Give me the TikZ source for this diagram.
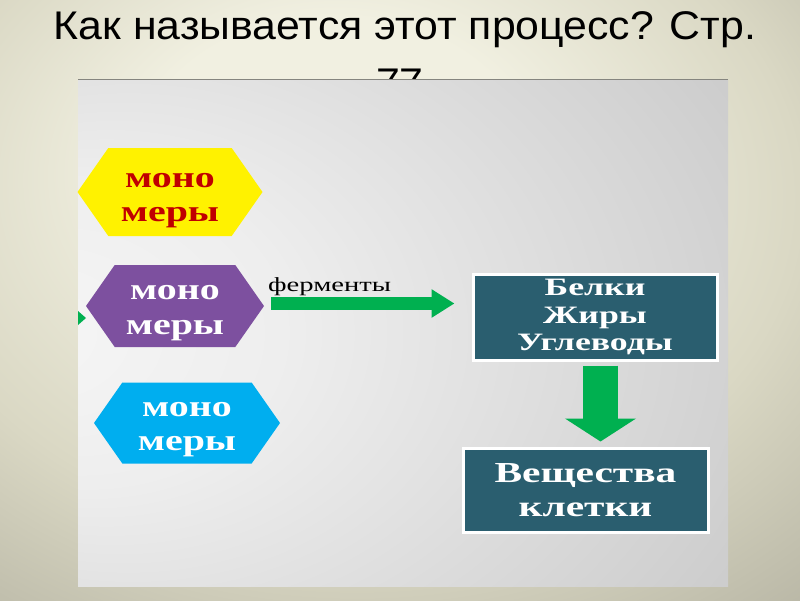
\documentclass[tikz,border=0pt]{standalone}
\usepackage{fontspec}
\setmainfont{Liberation Serif}
\newfontfamily\titlefont[FakeStretch=1.07]{Liberation Sans}
\newfontfamily\hexserif[FakeStretch=1.33]{Liberation Serif}
\newfontfamily\boxserif[FakeStretch=1.43]{Liberation Serif}
\usetikzlibrary{shapes.symbols,arrows.meta,calc}
\definecolor{bgA}{HTML}{F1F0E1}
\definecolor{bgB}{HTML}{DAD8C4}
\definecolor{bgC}{HTML}{AAA898}
\definecolor{bgD}{HTML}{86857A}
\definecolor{pnA}{HTML}{F6F6F6}
\definecolor{pnB}{HTML}{EEEEEE}
\definecolor{pnC}{HTML}{CDCDCD}
\definecolor{pnD}{HTML}{B6B6B6}
\definecolor{panelline}{HTML}{85857F}
\definecolor{hexyellow}{HTML}{FFF200}
\definecolor{hexpurple}{HTML}{7D509F}
\definecolor{hexcyan}{HTML}{00AEEF}
\definecolor{monored}{HTML}{C00000}
\definecolor{arrowgreen}{HTML}{00B050}
\definecolor{boxteal}{HTML}{2A5E6F}
\pgfdeclareradialshading{bgshade}{\pgfpoint{-5bp}{14bp}}{color(0bp)=(bgA); color(12bp)=(bgA); color(28bp)=(bgB); color(48bp)=(bgC); color(70bp)=(bgD)}
\pgfdeclareradialshading{panelshade}{\pgfpoint{-30bp}{0bp}}{color(0bp)=(pnA); color(15bp)=(pnB); color(45bp)=(pnC); color(80bp)=(pnD)}
\tikzset{
  titlestyle/.style={font=\titlefont\fontsize{40}{48}\selectfont, text=black, inner sep=0pt},
  hexa/.style={shape=signal, signal to=east and west, signal pointer angle=110, draw=none, fill=#1, inner sep=0pt, align=center, font=\hexserif\bfseries\fontsize{30}{34.5}\selectfont},
  tealbox/.style={draw=white, line width=3pt, fill=boxteal, text=white, align=center, inner sep=0pt},
  fatarrow/.style={draw=arrowgreen, line width=13pt, -{Triangle[width=27pt,length=23pt]}},
  downarrow/.style={draw=arrowgreen, line width=35pt, -{Triangle[width=70pt,length=23pt]}},
}
\begin{document}
\begin{tikzpicture}[x=1pt,y=-1pt]
\useasboundingbox (0,0) rectangle (800,600);
\shade[shading=bgshade] (0,0) rectangle (800,600);
\node[titlestyle, anchor=base] (title) at (405,39) {Как называется этот процесс? Стр.};
\node[titlestyle, anchor=base] (page) at (400,96) {77};
\shade[shading=panelshade] (78,79) rectangle (728,586);
\draw[line width=1.5pt, panelline] (78,79.5) -- (728,79.5);
\fill[arrowgreen] (78,311) -- (86,318) -- (78,325) -- cycle;
\node[hexa=hexyellow, text=monored, minimum width=185pt, minimum height=88pt] (m1) at (170,192) {\rule{0pt}{31.5pt}моно\\меры};
\node[hexa=hexpurple, text=white, minimum width=178pt, minimum height=82pt] (m2) at (175,306) {\rule{0pt}{28.5pt}моно\\меры};
\node[hexa=hexcyan, text=white, minimum width=186pt, minimum height=81pt] (m3) at (187,423) {\rule{0pt}{27.5pt}моно\\меры};
\node[tealbox, minimum width=244pt, minimum height=86pt, font=\boxserif\bfseries\fontsize{25}{27.5}\selectfont] (bjy) at (595,317) {Белки\\Жиры\\Углеводы};
\node[tealbox, minimum width=245pt, minimum height=84pt, font=\boxserif\bfseries\fontsize{29}{34}\selectfont] (vk) at (585.5,490) {Вещества\\клетки};
\path (m2.east) ++(7,-2.5) coordinate (f0);
\draw[fatarrow, shorten >=17pt] (f0) -- (f0 -| bjy.west);
\node[font=\boxserif\fontsize{20}{24}\selectfont, anchor=base west, inner sep=0pt] (ferm) at (268,291) {ферменты};
\draw[downarrow, shorten <=4pt, shorten >=5pt] ([xshift=5.5pt]bjy.south) -- ([xshift=5.5pt]bjy.south |- vk.north);
\end{tikzpicture}
\end{document}
